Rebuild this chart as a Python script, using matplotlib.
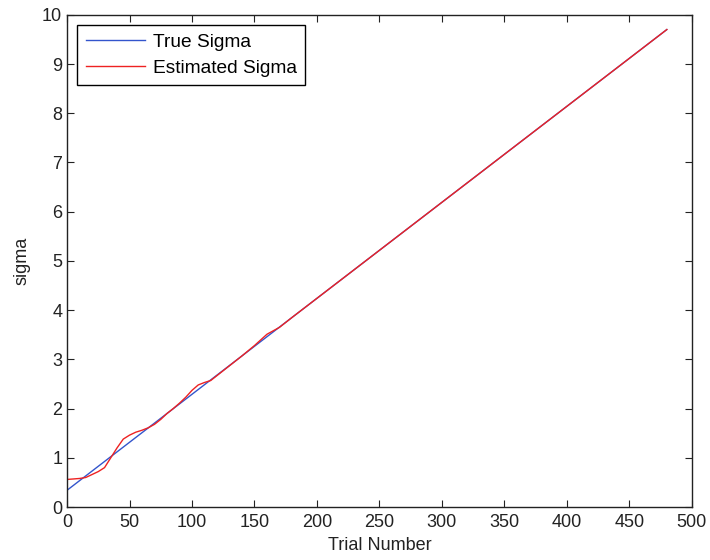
import numpy as np
import matplotlib
matplotlib.use('Agg')
import matplotlib.pyplot as plt

plt.rcParams['font.family'] = ['Liberation Sans', 'DejaVu Sans']

# True sigma
true_trial = [0, 40, 80, 120, 160, 200, 240, 280, 320, 360, 400, 440, 480]
true_sigma = [0.34, 1.12, 1.90, 2.68, 3.46, 4.24, 5.02, 5.80, 6.58, 7.36, 8.14, 8.92, 9.70]

# Estimated sigma
est_trial = [0, 5, 10, 15, 20, 25, 30, 35, 40, 45, 50, 55, 60, 65, 70, 75, 80, 85, 90,
             95, 100, 105, 110, 115, 120, 130, 140, 150, 160, 170, 180, 200, 240, 280,
             320, 360, 400, 440, 480]
est_sigma = [0.56, 0.57, 0.58, 0.60, 0.66, 0.72, 0.80, 1.00, 1.20, 1.38, 1.46, 1.52,
             1.56, 1.61, 1.68, 1.78, 1.90, 2.00, 2.11, 2.23, 2.37, 2.48, 2.53, 2.57,
             2.67, 2.87, 3.07, 3.28, 3.51, 3.65, 3.85, 4.24, 5.02, 5.80, 6.58, 7.36,
             8.14, 8.92, 9.70]

fig = plt.figure(figsize=(7.1, 5.6), dpi=100)
ax = fig.add_axes([0.0944, 0.0946, 0.880, 0.879])

ax.plot(true_trial, true_sigma, color='#3355cc', lw=1.0, label='True Sigma')
ax.plot(est_trial, est_sigma, color='#ee2222', lw=1.0, label='Estimated Sigma')

ax.set_xlim(0, 500)
ax.set_ylim(0, 10)
ax.set_xticks(np.arange(0, 501, 50))
ax.set_yticks(np.arange(0, 11, 1))
ax.tick_params(direction='in', top=True, right=True, length=5, colors='#222222',
               labelsize=13)
ax.tick_params(axis='x', pad=5)
for s in ax.spines.values():
    s.set_linewidth(1.0)
    s.set_color('#222222')
ax.set_xlabel('Trial Number', fontsize=13, labelpad=4, color='#222222')
ax.set_ylabel('sigma', fontsize=13, labelpad=8, color='#222222')

leg = ax.legend(loc='upper left', fontsize=13.8, fancybox=False, framealpha=1,
                edgecolor='black', bbox_to_anchor=(0.016, 0.98), borderaxespad=0,
                handlelength=3.1, handletextpad=0.4, labelspacing=0.45,
                borderpad=0.45)
leg.get_frame().set_linewidth(1.0)

fig.savefig('out.png', dpi=100)
